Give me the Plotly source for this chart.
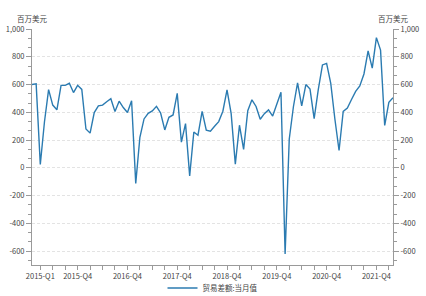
import plotly.graph_objects as go
import pandas as pd

# Monthly categories Jan 2015 – Apr 2022
months = [d.strftime("%Y-%m") for d in pd.date_range("2015-01-01", "2022-04-01", freq="MS")]

# 贸易差额:当月值 (百万美元)
trade_balance = [
    600, 605, 24, 330, 563, 452, 418, 594, 594, 609, 542, 594,
    565, 280, 250, 398, 446, 452, 476, 498, 405, 480, 434, 398,
    483, -112, 220, 352, 393, 410, 443, 395, 273, 364, 381, 536,
    185, 318, -58, 258, 235, 407, 272, 264, 300, 333, 408, 562,
    390, 27, 307, 133, 412, 490, 442, 350, 390, 417, 373, 462,
    544, -621, 208, 440, 612, 446, 600, 567, 355, 565, 741, 752,
    608, 350, 125, 406, 430, 492, 551, 590, 676, 842, 718, 938,
    848, 305, 472, 505,
]

series_name = "贸易差额:当月值"
unit_label = "百万美元"

# x tick labels (quarter ends)
quarter_months = months[2::3]
labeled = {"2015-03": "2015-Q1", "2015-12": "2015-Q4", "2016-12": "2016-Q4",
           "2017-12": "2017-Q4", "2018-12": "2018-Q4", "2019-12": "2019-Q4",
           "2020-12": "2020-Q4", "2021-12": "2021-Q4"}
x_ticktext = [labeled.get(m, "") for m in quarter_months]

y_tickvals = [-600, -400, -200, 0, 200, 400, 600, 800, 1000]
y_ticktext = ["-600", "-400", "-200", "0", "200", "400", "600", "800", "1,000"]
y_minor = [v / 3 * 200 for v in range(-10, 15) if v % 3 != 0]

FONT = "Noto Sans CJK SC"
LINE_COLOR = "#2b7bb1"
AXIS_COLOR = "#9a9a9a"
TEXT_COLOR = "#444444"

fig = go.Figure()
fig.add_trace(go.Scatter(x=months, y=trade_balance, mode="lines", name=series_name,
                         line=dict(color=LINE_COLOR, width=1.4)))
fig.add_trace(go.Scatter(x=months, y=trade_balance, mode="lines", yaxis="y2",
                         showlegend=False, hoverinfo="skip", opacity=0,
                         line=dict(color=LINE_COLOR, width=0)))

yaxis_common = dict(
    range=[-700, 1000], tickmode="array", tickvals=y_tickvals, ticktext=y_ticktext,
    ticks="outside", ticklen=5, tickcolor=AXIS_COLOR, tickwidth=1,
    showline=True, linecolor=AXIS_COLOR, linewidth=1,
    tickfont=dict(size=7.5, color=TEXT_COLOR, family=FONT),
    zeroline=False,
    minor=dict(tickmode="array", tickvals=y_minor, ticks="outside", ticklen=3,
               tickcolor=AXIS_COLOR, showgrid=False),
)

fig.update_layout(
    width=426, height=296,
    margin=dict(l=32, r=33, t=29, b=31, autoexpand=False),
    paper_bgcolor="white", plot_bgcolor="white",
    font=dict(family=FONT, size=7.5, color=TEXT_COLOR),
    xaxis=dict(
        type="category", range=[0, len(months) - 1],
        tickmode="array", tickvals=quarter_months, ticktext=x_ticktext,
        ticks="outside", ticklen=4, tickcolor=AXIS_COLOR,
        showline=True, linecolor=AXIS_COLOR, linewidth=1,
        showgrid=False, tickangle=0,
        tickfont=dict(size=7.5, color=TEXT_COLOR, family=FONT),
    ),
    yaxis=dict(**yaxis_common, side="left", showgrid=True, gridcolor="#e3e3e3",
               griddash="3px,2px", gridwidth=1),
    yaxis2=dict(**yaxis_common, side="right", overlaying="y", showgrid=False),
    showlegend=True,
    legend=dict(orientation="h", x=0.5, xanchor="center", xref="container",
                y=0.027, yanchor="middle", yref="container",
                font=dict(size=7.5, color=TEXT_COLOR, family=FONT),
                bgcolor="rgba(0,0,0,0)"),
    annotations=[
        dict(text=unit_label, x=0, xref="paper", y=1, yref="paper", yshift=11,
             xanchor="center", yanchor="middle", showarrow=False,
             font=dict(size=7.5, color=TEXT_COLOR, family=FONT)),
        dict(text=unit_label, x=1, xref="paper", y=1, yref="paper", yshift=11,
             xanchor="center", yanchor="middle", showarrow=False,
             font=dict(size=7.5, color=TEXT_COLOR, family=FONT)),
    ],
)

fig.write_html("out.html")
